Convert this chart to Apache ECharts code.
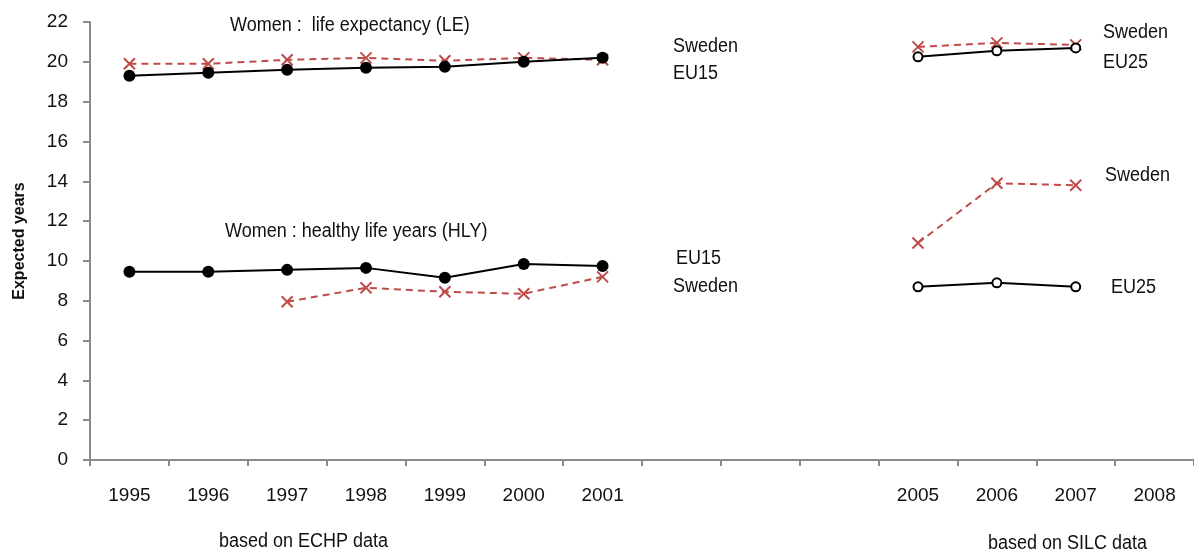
<!DOCTYPE html>
<html>
<head>
<meta charset="utf-8">
<script src="https://cdn.jsdelivr.net/npm/echarts@6/dist/echarts.min.js"></script>
<style>
  html, body { margin: 0; padding: 0; background: #fff; }
  #chart { width: 1194px; height: 552px; }
</style>
</head>
<body>
<div id="chart"></div>
<script>
// categories (2002-2004 are empty slots on the axis)
const years = ['1995', '1996', '1997', '1998', '1999', '2000', '2001', '2002', '2003', '2004', '2005', '2006', '2007', '2008'];
const hiddenYears = ['2002', '2003', '2004'];
const yTicks = [0, 2, 4, 6, 8, 10, 12, 14, 16, 18, 20, 22];

// ECHP period (1995-2001)
const leEU15 = [19.3, 19.45, 19.6, 19.7, 19.75, 20.0, 20.2, null, null, null, null, null, null, null];
const leSwedenEchp = [19.9, 19.9, 20.1, 20.2, 20.05, 20.2, 20.1, null, null, null, null, null, null, null];
const hlyEU15 = [9.45, 9.45, 9.55, 9.65, 9.15, 9.85, 9.75, null, null, null, null, null, null, null];
const hlySwedenEchp = [null, null, 7.95, 8.65, 8.45, 8.35, 9.2, null, null, null, null, null, null, null];

// SILC period (2005-2007)
const leEU25 = [null, null, null, null, null, null, null, null, null, null, 20.25, 20.55, 20.7, null];
const leSwedenSilc = [null, null, null, null, null, null, null, null, null, null, 20.75, 20.95, 20.85, null];
const hlyEU25 = [null, null, null, null, null, null, null, null, null, null, 8.7, 8.9, 8.7, null];
const hlySwedenSilc = [null, null, null, null, null, null, null, null, null, null, 10.9, 13.9, 13.8, null];

const RED = '#BE4B48';
const GREY = '#8a8a8a';
const FONT = "'Liberation Sans', Arial, sans-serif";
const crossSymbol = 'path://M0,0L10,10M10,0L0,10';

function euSeries(name, data, open) {
    return {
        name: name,
        type: 'line',
        data: data,
        symbol: open ? 'emptyCircle' : 'circle',
        symbolSize: open ? 9 : 12,
        showAllSymbol: true,
        lineStyle: { color: '#000', width: 2 },
        itemStyle: { color: '#000', borderColor: '#000', borderWidth: open ? 2 : 0 },
        z: 3
    };
}

function swedenSeries(name, data) {
    return {
        name: name,
        type: 'line',
        data: data,
        symbol: crossSymbol,
        symbolSize: 11,
        showAllSymbol: true,
        lineStyle: { color: RED, width: 2, type: [7, 5] },
        itemStyle: { color: RED, borderColor: RED, borderWidth: 2 },
        z: 2
    };
}

// text note, x = left edge, y = vertical centre (slightly condensed like the original)
function note(text, x, y) {
    return {
        type: 'text',
        x: x,
        y: y,
        scaleX: 0.9,
        style: {
            text: text,
            fill: '#111',
            font: '20px ' + FONT,
            align: 'left',
            verticalAlign: 'middle'
        }
    };
}

let myChart = echarts.init(document.getElementById('chart'));
let option = {
    animation: false,
    backgroundColor: '#fff',
    grid: {
        left: 90,
        top: 22,
        bottom: 92,
        width: 1110
    },
    xAxis: {
        type: 'category',
        data: years,
        boundaryGap: true,
        axisLine: { lineStyle: { color: GREY, width: 2 } },
        axisTick: { show: true, length: 6, lineStyle: { color: GREY, width: 2 } },
        axisLabel: {
            margin: 26,
            color: '#111',
            fontFamily: FONT,
            fontSize: 19,
            interval: 0,
            formatter: function (v) {
                return hiddenYears.indexOf(v) >= 0 ? '' : v;
            }
        },
        splitLine: { show: false }
    },
    yAxis: {
        type: 'value',
        min: yTicks[0],
        max: yTicks[yTicks.length - 1],
        interval: 2,
        name: 'Expected years',
        nameLocation: 'middle',
        nameGap: 62,
        nameTextStyle: { color: '#111', fontFamily: FONT, fontSize: 16, fontWeight: 'bold' },
        axisLine: { show: true, lineStyle: { color: GREY, width: 2 } },
        axisTick: { show: true, length: 7, lineStyle: { color: GREY, width: 2 } },
        axisLabel: { margin: 22, color: '#111', fontFamily: FONT, fontSize: 19 },
        splitLine: { show: false }
    },
    graphic: [
        note('Women :  life expectancy (LE)', 230, 25),
        note('Sweden', 673, 46),
        note('EU15', 673, 73),
        note('Sweden', 1103, 32),
        note('EU25', 1103, 62),
        note('Women : healthy life years (HLY)', 225, 231),
        note('EU15', 676, 258),
        note('Sweden', 673, 286),
        note('Sweden', 1105, 175),
        note('EU25', 1111, 287),
        note('based on ECHP data', 219, 541),
        note('based on SILC data', 988, 543)
    ],
    series: [
        swedenSeries('Sweden LE (ECHP)', leSwedenEchp),
        euSeries('EU15 LE', leEU15, false),
        euSeries('EU15 HLY', hlyEU15, false),
        swedenSeries('Sweden HLY (ECHP)', hlySwedenEchp),
        swedenSeries('Sweden LE (SILC)', leSwedenSilc),
        euSeries('EU25 LE', leEU25, true),
        euSeries('EU25 HLY', hlyEU25, true),
        swedenSeries('Sweden HLY (SILC)', hlySwedenSilc)
    ]
};
myChart.setOption(option);
window.onresize = function () {
    myChart.resize();
}
</script>
</body>
</html>
